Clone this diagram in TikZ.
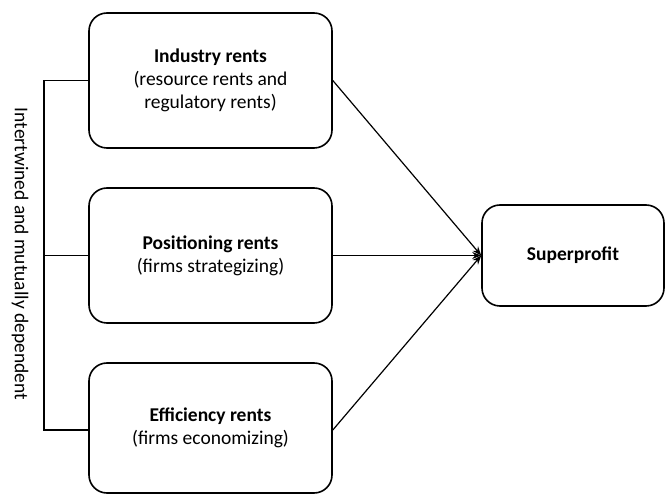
\documentclass[tikz,border=0pt]{standalone}
\usepackage{fontspec}
\setmainfont{Carlito}
\usetikzlibrary{arrows.meta}
\begin{document}
\begin{tikzpicture}[x=1pt,y=-1pt,
  rentbox/.style={draw, line width=1.6pt, rounded corners=18pt, align=center,
    font=\fontsize{19.5}{23}\selectfont, inner sep=0pt},
  link/.style={line width=1.2pt},
  feed/.style={line width=1.2pt, -{Stealth[length=9pt,width=7pt]}}]
\useasboundingbox (0,0) rectangle (665,494);

\node[rentbox, minimum width=243pt, minimum height=135pt] (ind) at (210.5,80.5)
  {\textbf{Industry rents}\\(resource rents and\\regulatory rents)};
\node[rentbox, minimum width=243pt, minimum height=135pt] (pos) at (210.5,255.5)
  {\textbf{Positioning rents}\\(firms strategizing)};
\node[rentbox, minimum width=243pt, minimum height=130pt] (eff) at (210.5,428)
  {\textbf{Efficiency rents}\\(firms economizing)};
\node[rentbox, minimum width=182pt, minimum height=101pt] (sup) at (573,255.5)
  {\textbf{Superprofit}};

% bracket tying the three rent sources together
\coordinate (btop) at (44,80.5);
\coordinate (bmid) at (44,255.5);
\coordinate (bbot) at (44,430);
\draw[link] (ind.west |- btop) -- (btop) -- (bbot) -- (eff.west |- bbot);
\draw[link] (bmid) -- (pos.west);

\node[rotate=-90, font=\fontsize{19.5}{23}\selectfont] (lab) at (20,254)
  {Intertwined and mutually dependent};

\draw[feed] (ind.east) -- (sup.west);
\draw[feed] (pos.east) -- (sup.west);
\draw[feed] (eff.east |- bbot) -- (sup.west);
\end{tikzpicture}
\end{document}
